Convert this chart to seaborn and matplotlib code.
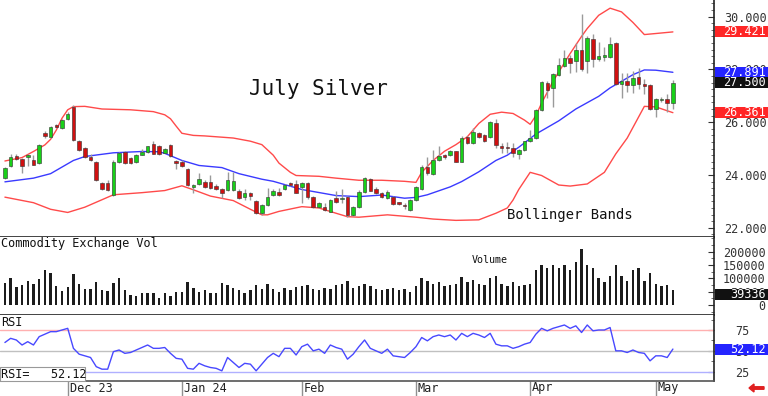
import numpy as np
import pandas as pd
import matplotlib
matplotlib.use('Agg')
import matplotlib.pyplot as plt
import matplotlib.transforms as mtransforms
from matplotlib.patches import Rectangle
from matplotlib.ticker import MultipleLocator
import seaborn as sns

# ── Data: July silver daily bars, mid Nov 2023 to early May 2024 ─────────
holidays = ['2023-11-23', '2023-12-25', '2024-01-01', '2024-01-15',
            '2024-02-19', '2024-03-29']
dates = pd.bdate_range('2023-11-15', '2024-05-06')
dates = dates[~dates.isin(pd.to_datetime(holidays))]
month_labels = ['Dec 23', 'Jan 24', 'Feb', 'Mar', 'Apr', 'May']

opens = [23.90, 24.34, 24.72, 24.60, 24.70, 24.55, 24.45, 25.60, 25.43, 25.90,
         25.77, 26.11, 26.59, 25.27, 25.04, 24.70, 24.51, 23.69, 23.69, 23.25,
         24.50, 24.86, 24.64, 24.48, 24.76, 24.86, 25.18, 25.08, 24.85, 25.14,
         24.53, 24.51, 24.22, 23.54, 23.66, 23.75, 23.73, 23.59, 23.46, 23.44,
         23.44, 23.41, 23.18, 23.31, 23.03, 22.55, 22.87, 23.25, 23.37, 23.46,
         23.71, 23.66, 23.54, 23.69, 23.18, 22.78, 22.80, 22.61, 23.12, 23.08,
         23.18, 22.49, 22.80, 23.37, 23.84, 23.46, 23.31, 23.12, 23.18, 22.96,
         22.85, 22.68, 23.06, 23.46, 24.32, 24.04, 24.57, 24.76, 24.76, 24.89,
         24.51, 25.44, 25.21, 25.58, 25.52, 25.45, 25.96, 25.11, 25.05, 25.01,
         24.79, 24.95, 25.29, 25.39, 26.47, 27.48, 27.29, 27.79, 28.14, 28.45,
         28.30, 28.74, 28.30, 29.16, 28.39, 28.46, 28.48, 28.99, 27.45, 27.55,
         27.41, 27.73, 27.45, 27.41, 26.49, 26.83, 26.87, 26.74]
highs = [24.32, 24.79, 24.80, 24.64, 24.80, 24.76, 25.17, 25.66, 25.86, 25.95,
         26.12, 26.38, 26.65, 25.33, 25.06, 24.80, 24.54, 23.72, 23.81, 24.55,
         24.86, 24.90, 24.68, 24.79, 24.98, 25.10, 25.27, 25.12, 25.03, 25.16,
         24.56, 24.55, 24.25, 23.66, 24.07, 23.80, 24.00, 23.65, 23.50, 24.10,
         24.12, 23.45, 23.45, 23.35, 23.06, 22.90, 23.50, 23.45, 23.52, 23.66,
         23.75, 23.81, 23.72, 23.72, 23.22, 22.96, 22.95, 23.10, 23.41, 23.45,
         23.22, 22.84, 23.42, 23.94, 23.88, 23.55, 23.34, 23.42, 23.21, 22.99,
         22.95, 23.09, 23.58, 24.38, 24.67, 24.95, 25.08, 24.80, 24.95, 24.92,
         25.46, 25.48, 25.78, 25.62, 25.56, 26.05, 26.13, 25.20, 25.25, 25.20,
         24.98, 25.30, 25.71, 26.50, 27.55, 27.55, 27.86, 28.45, 28.75, 28.55,
         29.00, 30.09, 29.25, 29.35, 29.05, 28.85, 29.24, 29.02, 27.85, 27.85,
         27.95, 28.05, 27.65, 27.45, 26.90, 26.95, 27.05, 27.58]
lows = [23.85, 24.30, 24.55, 24.07, 24.34, 24.36, 24.42, 25.42, 25.39, 25.78,
        25.74, 26.08, 25.30, 24.89, 24.64, 24.52, 23.78, 23.42, 23.40, 23.22,
        24.46, 24.42, 24.42, 24.45, 24.74, 24.84, 24.78, 24.76, 24.82, 24.70,
        24.22, 24.30, 23.60, 23.33, 23.62, 23.50, 23.46, 23.42, 23.12, 23.40,
        23.40, 23.08, 23.05, 23.05, 22.52, 22.50, 22.84, 23.20, 23.22, 23.42,
        23.60, 23.30, 22.93, 23.10, 22.76, 22.74, 22.64, 22.58, 22.95, 22.95,
        22.40, 22.45, 22.76, 23.33, 23.38, 23.28, 23.12, 23.09, 22.86, 22.86,
        22.70, 22.65, 23.03, 23.43, 24.00, 24.00, 24.54, 24.62, 24.73, 24.48,
        24.48, 25.18, 25.18, 25.42, 25.24, 25.42, 25.01, 24.82, 24.82, 24.70,
        24.60, 24.92, 25.26, 25.36, 26.44, 26.90, 26.59, 27.76, 28.10, 27.85,
        27.90, 27.95, 27.85, 28.10, 28.30, 28.30, 28.45, 27.40, 26.91, 27.15,
        27.10, 27.25, 27.05, 26.45, 26.21, 26.78, 26.38, 26.50]
closes = [24.28, 24.70, 24.62, 24.35, 24.74, 24.38, 25.14, 25.46, 25.81, 25.82,
          26.09, 26.30, 25.33, 24.95, 24.70, 24.57, 23.81, 23.46, 23.44, 24.51,
          24.83, 24.45, 24.47, 24.76, 24.86, 25.08, 24.80, 24.80, 24.98, 24.72,
          24.45, 24.34, 23.63, 23.63, 23.84, 23.54, 23.50, 23.46, 23.31, 23.81,
          23.79, 23.12, 23.31, 23.20, 22.55, 22.87, 23.18, 23.41, 23.25, 23.63,
          23.63, 23.33, 23.69, 23.18, 22.80, 22.93, 22.68, 23.06, 22.99, 23.12,
          22.49, 22.80, 23.37, 23.88, 23.41, 23.31, 23.16, 23.37, 22.91, 22.89,
          22.83, 23.06, 23.54, 24.32, 24.07, 24.57, 24.72, 24.67, 24.89, 24.51,
          25.42, 25.21, 25.61, 25.45, 25.27, 26.00, 25.14, 25.01, 25.02, 24.83,
          24.95, 25.27, 25.39, 26.47, 27.52, 27.22, 27.82, 28.17, 28.45, 28.23,
          28.74, 28.02, 29.18, 28.40, 28.51, 28.55, 28.97, 27.45, 27.56, 27.40,
          27.67, 27.45, 27.37, 26.49, 26.87, 26.86, 26.74, 27.50]

volume = [84, 100, 69, 75, 90, 78, 96, 131, 121, 72,
          53, 69, 115, 78, 60, 59, 88, 56, 53, 81,
          100, 56, 38, 34, 46, 46, 46, 25, 44, 35,
          48, 48, 85, 63, 48, 56, 44, 44, 81, 75,
          65, 56, 44, 56, 75, 59, 78, 60, 48, 63,
          56, 69, 70, 75, 60, 55, 65, 60, 75, 80,
          90, 65, 70, 80, 70, 60, 55, 60, 65, 55,
          60, 50, 70, 100, 90, 80, 85, 70, 75, 80,
          105, 85, 95, 80, 75, 100, 110, 80, 70, 85,
          70, 75, 80, 130, 150, 140, 150, 140, 150, 130,
          160, 210, 150, 140, 100, 85, 110, 150, 110, 90,
          130, 140, 90, 120, 80, 70, 75, 55]
volume = [v * 1000 for v in volume]
last_volume = 39336

rsi = [60, 65, 63, 57, 61, 57, 67, 70, 73, 73,
       75, 77, 53, 46, 44, 42, 31, 28, 28, 49,
       51, 47, 48, 51, 54, 57, 53, 53, 54, 47,
       41, 40, 29, 28, 35, 32, 30, 29, 26, 42,
       36, 30, 35, 34, 26, 34, 42, 47, 43, 53,
       53, 45, 55, 58, 50, 52, 47, 57, 54, 52,
       40, 46, 55, 63, 53, 50, 47, 52, 44, 43,
       42, 48, 55, 66, 62, 67, 69, 67, 69, 63,
       71, 67, 71, 69, 66, 71, 58, 56, 56, 53,
       55, 58, 60, 70, 77, 74, 77, 79, 81, 77,
       80, 72, 81, 74, 75, 75, 78, 50, 50, 48,
       51, 48, 47, 38, 44, 44, 42, 52.12]

# Bollinger bands (bar index, price)
upper_idx = [0, 3, 5, 7, 8, 9, 10, 11, 12, 14, 17, 22, 26, 28, 29, 30, 31, 33,
             35, 40, 43, 45, 47, 48, 50, 51, 55, 58, 62, 66, 70, 72, 73, 75, 77,
             79, 81, 83, 85, 87, 89, 91, 92, 93, 94, 96, 97, 99, 101, 102, 104,
             106, 108, 110, 112, 114, 117]
upper_val = [24.53, 24.66, 24.89, 25.14, 25.35, 25.70, 26.15, 26.47, 26.59,
             26.60, 26.50, 26.47, 26.40, 26.28, 26.13, 25.85, 25.58, 25.50,
             25.48, 25.40, 25.28, 25.15, 24.75, 24.45, 24.10, 23.98, 23.95,
             23.88, 23.80, 23.80, 23.76, 23.72, 24.10, 24.55, 24.90, 25.15,
             25.45, 25.95, 26.30, 26.38, 26.33, 26.08, 25.92, 26.25, 26.72,
             27.55, 27.90, 28.60, 29.25, 29.55, 30.05, 30.32, 30.18, 29.78,
             29.32, 29.36, 29.421]
mid_idx = [0, 5, 8, 10, 12, 14, 19, 24, 27, 28, 31, 34, 38, 41, 45, 47, 52, 58,
           62, 66, 70, 72, 74, 76, 78, 80, 83, 86, 88, 90, 93, 97, 100, 104,
           106, 108, 110, 112, 114, 117]
mid_val = [23.74, 23.88, 24.05, 24.30, 24.55, 24.70, 24.84, 24.89, 24.88,
           24.82, 24.55, 24.36, 24.28, 24.05, 23.84, 23.76, 23.45, 23.22,
           23.18, 23.24, 23.12, 23.15, 23.25, 23.40, 23.55, 23.75, 24.12,
           24.55, 24.75, 25.05, 25.55, 26.05, 26.50, 26.98, 27.30, 27.55,
           27.80, 27.98, 27.97, 27.891]
lower_idx = [0, 5, 8, 11, 14, 19, 24, 28, 31, 33, 36, 40, 43, 45, 46, 48, 52,
             55, 58, 60, 62, 67, 72, 75, 79, 83, 86, 88, 89, 90, 92, 94, 97,
             99, 102, 105, 107, 109, 111, 112, 114, 117]
lower_val = [23.16, 22.95, 22.70, 22.58, 22.78, 23.25, 23.33, 23.41, 23.59,
             23.44, 23.20, 23.03, 22.70, 22.49, 22.49, 22.62, 22.80, 22.75,
             22.55, 22.42, 22.40, 22.49, 22.40, 22.33, 22.28, 22.30, 22.55,
             22.75, 23.05, 23.45, 24.10, 23.98, 23.62, 23.58, 23.66, 24.10,
             24.80, 25.40, 26.20, 26.60, 26.58, 26.361]

# ── Figure layout (pixel-matched panels) ────────────────────────────────
sns.set_theme(style='white')
plt.rcParams['font.family'] = ['DejaVu Sans Mono', 'DejaVu Sans']

W, H = 768, 396
fig = plt.figure(figsize=(W / 100, H / 100), dpi=100)
right = 714 / W
ax = fig.add_axes([0, 1 - 237 / H, right, 237 / H])
axv = fig.add_axes([0, 1 - 315 / H, right, 78 / H], sharex=ax)
axr = fig.add_axes([0, 1 - 381 / H, right, 66 / H], sharex=ax)

n = len(closes)
x = np.arange(n)
o = np.array(opens)
c = np.array(closes)
up = c >= o

# ── Price panel: candles + Bollinger bands ──────────────────────────────
ax.vlines(x, lows, highs, color='#9a9a9a', lw=1, zorder=2)
body_lo = np.minimum(o, c)
body_h = np.maximum(np.abs(c - o), 0.03)
ax.bar(x, body_h, bottom=body_lo, width=0.62,
       color=np.where(up, '#18d018', '#d01010'),
       edgecolor='#303030', linewidth=0.4, zorder=3)

sns.lineplot(x=upper_idx, y=upper_val, ax=ax, color='#ff4a4a', lw=1,
             sort=False, estimator=None, zorder=1)
sns.lineplot(x=lower_idx, y=lower_val, ax=ax, color='#ff4a4a', lw=1,
             sort=False, estimator=None, zorder=1)
sns.lineplot(x=mid_idx, y=mid_val, ax=ax, color='#3a3aff', lw=1,
             sort=False, estimator=None, zorder=1)

ax.set_xlim(-0.86, 124.2)
ax.set_ylim(21.65, 30.63)
ax.set_yticks([22, 24, 26, 28, 30])
ax.yaxis.set_minor_locator(MultipleLocator(0.25))
ax.yaxis.set_major_formatter(matplotlib.ticker.FormatStrFormatter('%.3f'))

# ── Volume panel ────────────────────────────────────────────────────────
sns.barplot(x=x, y=volume, ax=axv, native_scale=True, width=0.42,
            color='#1c1c1c', saturation=1, errorbar=None, linewidth=0)
axv.set_ylim(-37500, 255000)
axv.set_yticks([0, 50000, 100000, 150000, 200000])
axv.yaxis.set_minor_locator(MultipleLocator(25000))
axv.yaxis.set_major_formatter(matplotlib.ticker.FormatStrFormatter('%d'))

# ── RSI panel ───────────────────────────────────────────────────────────
axr.axhline(75, color='#ffb0b0', lw=1)
axr.axhline(50, color='#c0c0c0', lw=1)
axr.axhline(25, color='#b0b0ff', lw=1)
sns.lineplot(x=x, y=rsi, ax=axr, color='#4848ff', lw=1,
             sort=False, estimator=None)
axr.set_ylim(13.8, 93)
axr.set_yticks([25, 50, 75])
axr.yaxis.set_minor_locator(MultipleLocator(12.5))

for a in (ax, axv, axr):
    a.set_xlabel('')
    a.set_ylabel('')
    a.yaxis.tick_right()
    a.tick_params(axis='y', which='major', direction='in', length=4,
                  width=0.8, colors='#333333', labelsize=8.5, pad=7,
                  right=True, left=False)
    a.tick_params(axis='y', which='minor', direction='in', length=2,
                  width=0.6, colors='#555555', right=True, left=False)
    for s in ('top', 'left'):
        a.spines[s].set_visible(False)
    for s in ('right', 'bottom'):
        a.spines[s].set_color('#222222')
        a.spines[s].set_linewidth(1.2)
    a.tick_params(axis='x', bottom=False, labelbottom=False)

axv.tick_params(axis='y', which='major', pad=37)
for lab in axv.get_yticklabels():
    lab.set_horizontalalignment('right')
axr.tick_params(axis='y', which='major', pad=15)
axr.spines['bottom'].set_color('#555555')

# Month separators and labels under the RSI panel
month_pos = [i for i in range(1, n) if dates[i].month != dates[i - 1].month]
axr.set_xticks(month_pos)
axr.tick_params(axis='x', bottom=True, direction='out', length=11,
                width=1, color='#909090', labelbottom=False)
lab_tr = mtransforms.blended_transform_factory(axr.transData, axr.transAxes)
for pos, lab in zip(month_pos, month_labels):
    axr.text(pos, 0, lab, transform=lab_tr + mtransforms.ScaledTranslation(
        2 / 100, -7 / 100, fig.dpi_scale_trans), ha='left', va='center',
        fontsize=8.5, color='#222222')

# ── Value tags on the right axis ───────────────────────────────────────
ident = mtransforms.IdentityTransform()


def value_tag(axis, value, text, bg, x_text=723, ha='left', h=11):
    y = axis.transData.transform((0, value))[1]
    fig.patches.append(Rectangle((715, y - h / 2), W - 715, h,
                                 transform=ident, facecolor=bg,
                                 edgecolor='none', zorder=5))
    fig.text(x_text / W, y / H, text, ha=ha, va='center', fontsize=8.5,
             color='white', zorder=6)


value_tag(ax, upper_val[-1], '%.3f' % upper_val[-1], '#ff2626')
value_tag(ax, mid_val[-1], '%.3f' % mid_val[-1], '#2424ff')
value_tag(ax, closes[-1], '%.3f' % closes[-1], '#111111')
value_tag(ax, lower_val[-1], '%.3f' % lower_val[-1], '#ff2626')
value_tag(axv, last_volume, '%d' % last_volume, '#111111', x_text=766,
          ha='right')
value_tag(axr, rsi[-1], '%.2f' % rsi[-1], '#2424ff', x_text=730)

# ── Captions ────────────────────────────────────────────────────────────
fig.text(318 / W, 1 - 89 / H, 'July Silver', ha='center', va='center',
         fontsize=15, color='#111111')
fig.text(507 / W, 1 - 215 / H, 'Bollinger Bands', ha='left', va='center',
         fontsize=10, color='#111111')
fig.text(1 / W, 1 - 243 / H, 'Commodity Exchange Vol', ha='left',
         va='center', fontsize=8.6, color='#111111')
fig.text(472 / W, 1 - 260 / H, 'Volume', ha='left', va='center',
         fontsize=7.2, color='#111111')
fig.text(1 / W, 1 - 322 / H, 'RSI', ha='left', va='center', fontsize=8.6,
         color='#111111')
fig.patches.append(Rectangle((0, 15), 85, 14, transform=ident,
                             facecolor='white', edgecolor='#999999',
                             lw=0.8, zorder=5))
fig.text(1 / W, 22 / H, 'RSI=   %.2f' % rsi[-1], ha='left', va='center',
         fontsize=8.6, color='#111111', zorder=6)

# small red marker arrow in the bottom-right corner
fig.add_artist(matplotlib.patches.FancyArrow(
    764 / W, 8 / H, -10 / W, 0, width=2.5 / H, head_width=8 / H,
    head_length=5 / W, color='#e02020', transform=fig.transFigure))

fig.savefig('out.png', dpi=100)
